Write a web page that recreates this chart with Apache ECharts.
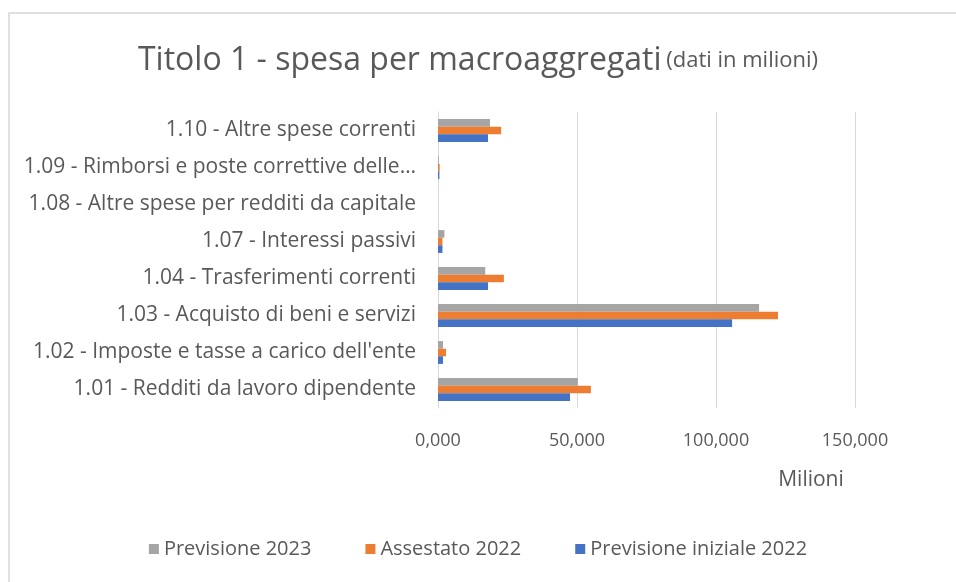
<!DOCTYPE html>
<html>
<head>
<meta charset="utf-8">
<script src="https://cdn.jsdelivr.net/npm/echarts@6/dist/echarts.min.js"></script>
<style>
  html, body { margin: 0; padding: 0; background: #fff; }
  #frame {
    position: absolute; left: 8px; top: 12px; width: 960px; height: 580px;
    border-left: 2px solid #e0e0e0; border-top: 2px solid #e0e0e0;
  }
  #chart { position: absolute; left: 0; top: 0; width: 956px; height: 582px; }
</style>
</head>
<body>
<div id="frame"></div>
<div id="chart"></div>
<script>
// categorie dal basso verso l'alto
const categories = [
  '1.01 - Redditi da lavoro dipendente',
  "1.02 - Imposte e tasse a carico dell'ente",
  '1.03 - Acquisto di beni e servizi',
  '1.04 - Trasferimenti correnti',
  '1.07 - Interessi passivi',
  '1.08 - Altre spese per redditi da capitale',
  '1.09 - Rimborsi e poste correttive delle…',
  '1.10 - Altre spese correnti'
];
const previsioneIniziale2022 = [47500, 1800, 105800, 18000, 1600, 0, 500, 18000];
const assestato2022 = [55000, 2900, 122300, 23700, 1600, 0, 600, 22700];
const previsione2023 = [50300, 1800, 115500, 17000, 2300, 0, 300, 18700];
const xTicks = [0, 50000, 100000, 150000];

const textColor = '#595959';
const font = 'Open Sans';

const chart = echarts.init(document.getElementById('chart'));

chart.setOption({
  animation: false,
  textStyle: { fontFamily: font },
  title: {
    text: '{a|Titolo 1 - spesa per macroaggregati} {b|(dati in milioni)}',
    left: 'center',
    top: 40,
    textStyle: {
      rich: {
        a: { fontSize: 32, color: textColor, fontFamily: font, fontWeight: 'normal' },
        b: { fontSize: 22, color: textColor, fontFamily: font, fontWeight: 'normal' }
      }
    }
  },
  legend: {
    data: ['Previsione 2023', 'Assestato 2022', 'Previsione iniziale 2022'],
    bottom: 18,
    left: 'center',
    itemWidth: 10,
    itemHeight: 10,
    itemGap: 54,
    icon: 'rect',
    textStyle: { fontSize: 20, color: textColor, fontFamily: font }
  },
  grid: {
    left: 438,
    right: 101,
    top: 112,
    bottom: 174,
    containLabel: false
  },
  xAxis: {
    type: 'value',
    min: 0,
    max: 150000,
    interval: 50000,
    name: 'Milioni',
    nameLocation: 'end',
    nameGap: 0,
    nameTextStyle: {
      fontSize: 21, color: textColor, fontFamily: font,
      align: 'center', verticalAlign: 'top', padding: [62, 0, 0, -88]
    },
    axisLine: { show: false },
    axisTick: { show: false },
    splitLine: { lineStyle: { color: '#d9d9d9', width: 1 } },
    axisLabel: {
      fontSize: 18, color: textColor, margin: 24,
      formatter: v => xTicks.includes(v) ? (v / 1000).toFixed(3).replace('.', ',') : ''
    }
  },
  yAxis: {
    type: 'category',
    data: categories,
    axisLine: { show: true, lineStyle: { color: '#d9d9d9' } },
    axisTick: { show: false },
    axisLabel: { fontSize: 21, color: textColor, margin: 22 }
  },
  series: [
    {
      name: 'Previsione 2023', type: 'bar', data: previsione2023,
      itemStyle: { color: '#a5a5a5' }, barWidth: 7.6, barGap: '0%'
    },
    {
      name: 'Assestato 2022', type: 'bar', data: assestato2022,
      itemStyle: { color: '#ed7d31' }, barWidth: 7.6, barGap: '0%'
    },
    {
      name: 'Previsione iniziale 2022', type: 'bar', data: previsioneIniziale2022,
      itemStyle: { color: '#4472c4' }, barWidth: 7.6, barGap: '0%'
    }
  ]
});
</script>
</body>
</html>
